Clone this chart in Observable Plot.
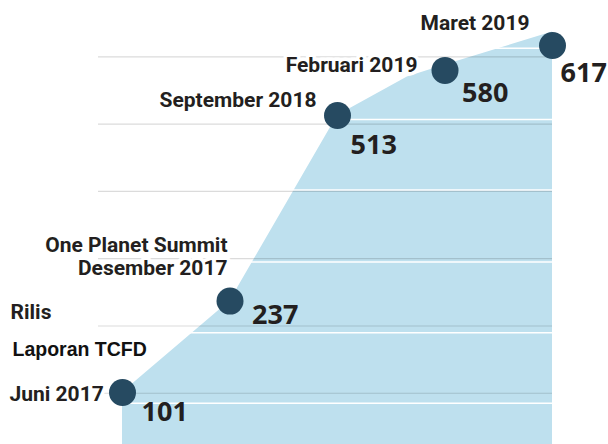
<!DOCTYPE html>
<html>
<head>
<meta charset="utf-8">
<script src="https://cdn.jsdelivr.net/npm/d3@7"></script>
<script src="https://cdn.jsdelivr.net/npm/@observablehq/plot@0.6"></script>
<style>
  html, body { margin: 0; padding: 0; background: #fff; }
  #chart svg { display: block; }
</style>
</head>
<body>
<div id="chart"></div>
<script>
// ---- data ----
const milestones = ["Juni 2017", "Desember 2017", "September 2018", "Februari 2019", "Maret 2019"];
const supporters = [101, 237, 513, 580, 617];
const dateLabels = ["Juni 2017", "One Planet Summit\nDesember 2017", "September 2018", "Februari 2019", "Maret 2019"];
const noteLines = ["Rilis", "Laporan TCFD"];
// area outline (milestone index, supporters)
const areaIndex = [0, 1, 2, 2.65, 3, 4];
const areaValues = [101, 237, 513, 570, 588, 637];
const gridValues = [100, 200, 300, 400, 500, 600];
const bandValues = [85, 190, 295, 402, 507, 613];

// ---- layout (pixel offsets of labels from markers) ----
const dateOffsets = [
  {dx: -113, dy: 1, anchor: "start"},
  {dx: -2.5, dy: -45, anchor: "end"},
  {dx: -21, dy: -16, anchor: "end"},
  {dx: -27.5, dy: -5.5, anchor: "end"},
  {dx: -23, dy: -22.5, anchor: "end"}
];
const valueOffsets = [
  {dx: 19, dy: 20}, {dx: 22, dy: 14.5}, {dx: 13, dy: 30}, {dx: 17, dy: 23}, {dx: 8, dy: 28}
];
const noteOffsets = [{dx: -112, dy: -80, font: "Roboto"}, {dx: -110, dy: -42.5, font: "Liberation Sans"}];

const points = milestones.map((m, i) => ({i, m, v: supporters[i], label: dateLabels[i]}));
const area = areaIndex.map((x, k) => ({x, v: areaValues[k]}));

const textColor = "#231f20";
const marks = [
  Plot.areaY(area, {x: "x", y: "v", y1: 0, fill: "#bee0ee"}),
  Plot.ruleY(bandValues, {stroke: "#ffffff", strokeWidth: 1.5}),
  Plot.ruleY(gridValues, {stroke: "#000", strokeOpacity: 0.14, strokeWidth: 1.2})
];
points.forEach((p, i) => {
  const o = dateOffsets[i];
  marks.push(Plot.text([p], {
    x: "i", y: "v", text: "label", dx: o.dx, dy: o.dy, textAnchor: o.anchor,
    fontFamily: "Roboto", fontWeight: 700, fontSize: 21, lineHeight: 1.1,
    fill: textColor, stroke: "white", strokeWidth: 7, paintOrder: "stroke"
  }));
});
noteLines.forEach((t, k) => {
  const o = noteOffsets[k];
  marks.push(Plot.text([points[0]], {
    x: "i", y: "v", text: () => t, dx: o.dx, dy: o.dy, textAnchor: "start",
    fontFamily: o.font, fontWeight: 700, fontSize: k === 0 ? 21 : 19.5,
    fill: k === 0 ? textColor : "#111", stroke: "white", strokeWidth: 6, paintOrder: "stroke"
  }));
});
marks.push(Plot.dot(points, {x: "i", y: "v", r: 13.5, fill: "#264a61", stroke: "none"}));
points.forEach((p, i) => {
  const o = valueOffsets[i];
  marks.push(Plot.text([p], {
    x: "i", y: "v", text: d => String(d.v), dx: o.dx, dy: o.dy, textAnchor: "start",
    fontFamily: "Open Sans", fontWeight: 700, fontSize: 27, fill: textColor
  }));
});

const chart = Plot.plot({
  width: 608,
  height: 444,
  marginTop: 0,
  marginBottom: 0,
  marginLeft: 98,
  marginRight: 56,
  style: {background: "white", overflow: "hidden"},
  x: {domain: [0, 4], range: [122, 552], axis: null},
  y: {domain: [0, 617], range: [460, 45], axis: null},
  marks
});
document.getElementById("chart").appendChild(chart);
</script>
</body>
</html>
